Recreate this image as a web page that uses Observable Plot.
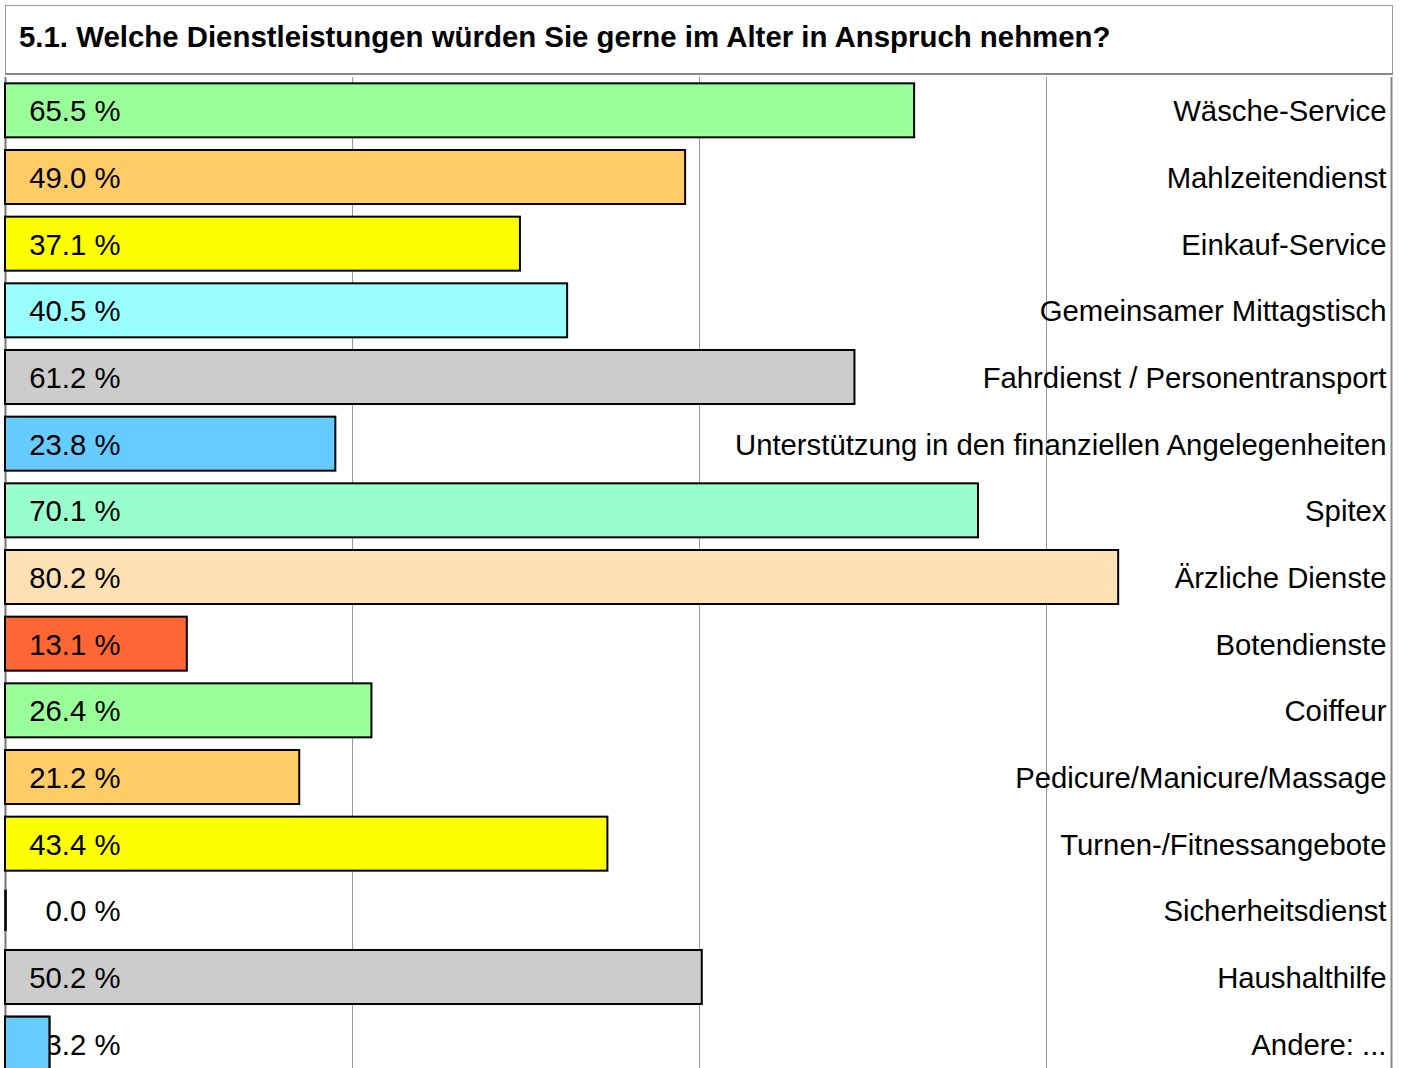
<!DOCTYPE html>
<html>
<head>
<meta charset="utf-8">
<script src="https://cdn.jsdelivr.net/npm/d3@7"></script>
<script src="https://cdn.jsdelivr.net/npm/@observablehq/plot@0.6"></script>
<style>
  html, body { margin: 0; padding: 0; background: #fff; width: 1402px; height: 1068px; overflow: hidden; }
  #title {
    position: absolute; left: 5px; top: 5px; width: 1388px; height: 70px;
    box-sizing: border-box; border: 1px solid #999; border-bottom: 2px solid #888;
    font-family: "Liberation Sans", Arial, sans-serif; font-weight: bold; font-size: 29.4px;
    padding: 0 0 0 13px; line-height: 62px; color: #000; white-space: nowrap;
  }
  #chart { position: absolute; left: 0; top: 75px; }
</style>
</head>
<body>
<div id="title">5.1. Welche Dienstleistungen würden Sie gerne im Alter in Anspruch nehmen?</div>
<div id="chart"></div>
<script>
const categories = [
  "Wäsche-Service",
  "Mahlzeitendienst",
  "Einkauf-Service",
  "Gemeinsamer Mittagstisch",
  "Fahrdienst / Personentransport",
  "Unterstützung in den finanziellen Angelegenheiten",
  "Spitex",
  "Ärzliche Dienste",
  "Botendienste",
  "Coiffeur",
  "Pedicure/Manicure/Massage",
  "Turnen-/Fitnessangebote",
  "Sicherheitsdienst",
  "Haushalthilfe",
  "Andere: ..."
];
const values = [65.5, 49.0, 37.1, 40.5, 61.2, 23.8, 70.1, 80.2, 13.1, 26.4, 21.2, 43.4, 0.0, 50.2, 3.2];
const colors = ["#99ff99", "#ffcc66", "#ffff00", "#99ffff", "#cccccc", "#66ccff", "#99ffcc", "#ffe1b3", "#ff6633",
                "#99ff99", "#ffcc66", "#ffff00", "#99ffff", "#cccccc", "#66ccff"];
const gridTicks = [25, 50, 75];

const data = categories.map((c, i) => ({cat: c, value: values[i], color: colors[i]}));
const font = "Liberation Sans, Arial, sans-serif";

const chart = Plot.plot({
  width: 1402,
  height: 1012,
  marginLeft: 5,
  marginRight: 9,
  marginTop: 2,
  marginBottom: 10,
  style: {fontFamily: font, background: "transparent"},
  x: {domain: [0, 100], axis: null},
  y: {domain: categories, axis: null, paddingInner: 0.19, paddingOuter: 0.095, round: false},
  marks: [
    Plot.ruleX(gridTicks, {stroke: "#999", strokeWidth: 1}),
    Plot.ruleX([0], {stroke: "#777", strokeWidth: 2}),
    Plot.ruleX([100], {stroke: "#888", strokeWidth: 2, dx: -2}),
    Plot.barX(data, {x: "value", y: "cat", fill: "color", stroke: "#000", strokeWidth: 2}),
    Plot.tickX(data.filter(d => d.value === 0), {x: "value", y: "cat", stroke: "#000", strokeWidth: 2.5, insetTop: 6.3, insetBottom: 6.3}),
    Plot.text(data, {x: () => 0, y: "cat", text: d => d.value.toFixed(1) + " %", textAnchor: "end", dx: 115, dy: 1, fontSize: 29.3, fill: "#000", lineAnchor: "middle"}),
    Plot.text(data, {x: () => 100, y: "cat", text: "cat", textAnchor: "end", dx: -7, dy: 1, fontSize: 29.3, fill: "#000", lineAnchor: "middle"}),
    Plot.barX(data.filter(d => d.value > 0 && d.value < 5), {x: "value", y: "cat", fill: "color", stroke: "#000", strokeWidth: 2})
  ]
});
document.getElementById("chart").appendChild(chart);
</script>
</body>
</html>
